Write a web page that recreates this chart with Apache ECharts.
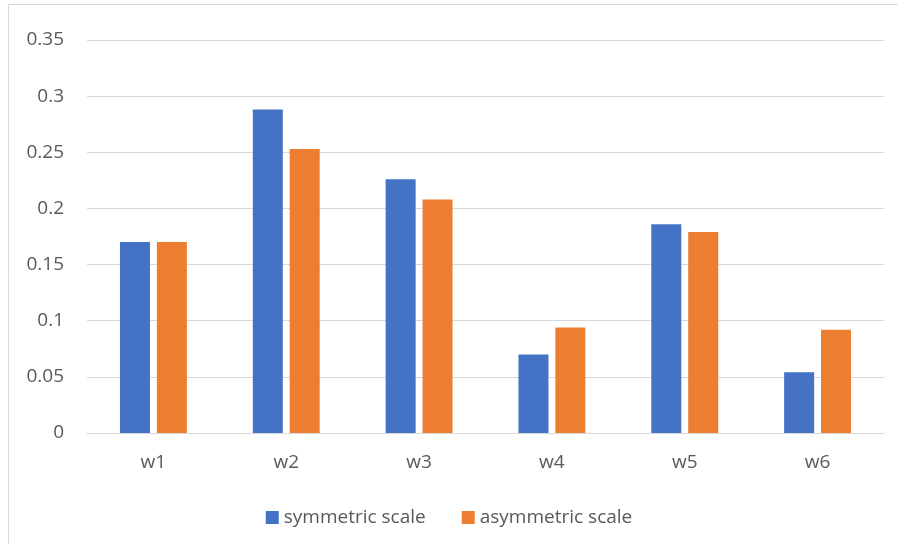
<!DOCTYPE html>
<html>
<head>
<meta charset="utf-8">
<script src="https://cdn.jsdelivr.net/npm/echarts@6/dist/echarts.min.js"></script>
<style>
html,body{margin:0;padding:0;background:#fff;}
#c{width:898px;height:544px;}
</style>
</head>
<body>
<div id="c"></div>
<script>
const categories = ['w1','w2','w3','w4','w5','w6'];
const symmetricScale = [0.170, 0.288, 0.226, 0.070, 0.186, 0.054];
const asymmetricScale = [0.170, 0.253, 0.208, 0.094, 0.179, 0.092];
const seriesNames = ['symmetric scale','asymmetric scale'];

const chart = echarts.init(document.getElementById('c'));
const font = "'Open Sans', 'Noto Sans', sans-serif";
chart.setOption({
  animation:false,
  backgroundColor:'#fff',
  graphic:[
    {type:'line', shape:{x1:8.5,y1:4.5,x2:898,y2:4.5}, style:{stroke:'#d9d9d9',lineWidth:1}},
    {type:'line', shape:{x1:8.5,y1:4.5,x2:8.5,y2:544}, style:{stroke:'#d9d9d9',lineWidth:1}}
  ],
  grid:{left:87, right:14, top:40, bottom:111, containLabel:false},
  legend:{
    top:503, left:'center',
    itemWidth:13, itemHeight:13, itemGap:36,
    icon:'rect',
    textStyle:{fontFamily:font, fontSize:19, color:'#595959'},
    data:seriesNames
  },
  xAxis:{
    type:'category', data:categories,
    axisLine:{lineStyle:{color:'#d9d9d9', width:1}},
    axisTick:{show:false},
    axisLabel:{fontFamily:font, fontSize:19, color:'#595959', margin:20}
  },
  yAxis:{
    type:'value', min:0, max:0.35, interval:0.05,
    axisLine:{show:false}, axisTick:{show:false},
    splitLine:{lineStyle:{color:'#d9d9d9', width:1}},
    axisLabel:{fontFamily:font, fontSize:19, color:'#595959', margin:23,
      formatter:v=>String(parseFloat(v.toFixed(2)))}
  },
  series:[
    {name:seriesNames[0], type:'bar', data:symmetricScale, barWidth:30, barGap:'23%',
      itemStyle:{color:'#4472C4'}},
    {name:seriesNames[1], type:'bar', data:asymmetricScale, barWidth:30,
      itemStyle:{color:'#ED7D31'}}
  ]
});
</script>
</body>
</html>
